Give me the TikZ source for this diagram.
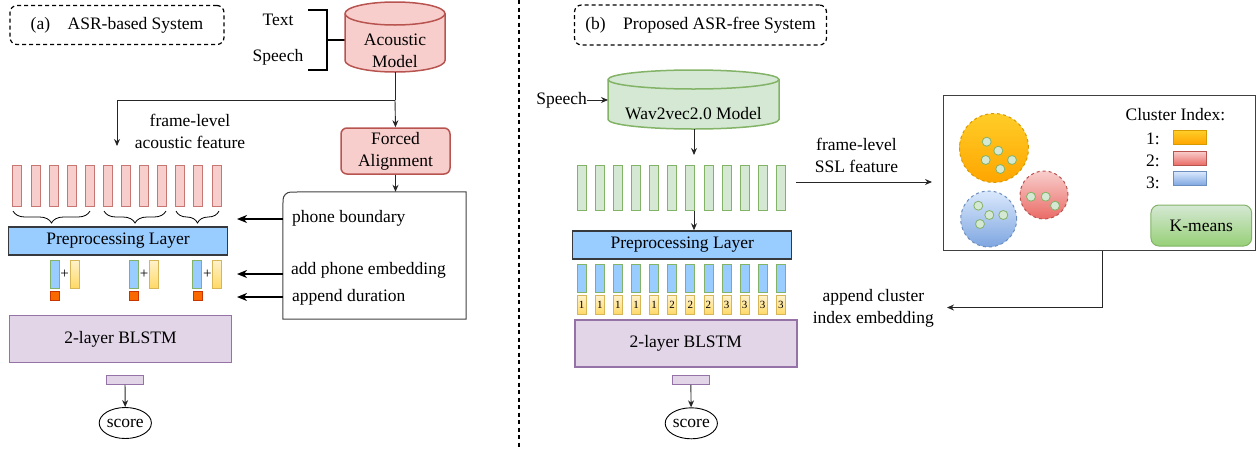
\documentclass[tikz,border=0pt]{standalone}
\usepackage{fontspec}
\setmainfont{Liberation Serif}
\usetikzlibrary{arrows.meta,decorations.pathreplacing,shapes.geometric}

\definecolor{pinkfill}{HTML}{F8CECC}
\definecolor{pinkline}{HTML}{B85450}
\definecolor{greenfill}{HTML}{D5E8D4}
\definecolor{greenline}{HTML}{82B366}
\definecolor{greendark}{HTML}{97D077}
\definecolor{prefill}{HTML}{99CCFF}
\definecolor{preline}{HTML}{36393D}
\definecolor{purpfill}{HTML}{E1D5E7}
\definecolor{purpline}{HTML}{9673A6}
\definecolor{yelfill}{HTML}{FFF2CC}
\definecolor{yeldark}{HTML}{FFD966}
\definecolor{yelline}{HTML}{D6B656}
\definecolor{orfill}{HTML}{FA6800}
\definecolor{orline}{HTML}{C73500}
\definecolor{gold}{HTML}{FFCD28}
\definecolor{golddark}{HTML}{FFA500}
\definecolor{goldline}{HTML}{D79B00}
\definecolor{redlight}{HTML}{F8CECC}
\definecolor{reddark}{HTML}{EA6B66}
\definecolor{bluelight}{HTML}{DAE8FC}
\definecolor{bluedark}{HTML}{7EA6E0}
\definecolor{blueline}{HTML}{6C8EBF}

\newcommand{\mainsize}{\fontsize{17.5}{21}\selectfont}
\newcommand{\drawcyl}[6]{%
  \pgfmathsetmacro\cylrad{(#3-#2)/2}
  \draw[#1] (#2,#4+#6) -- (#2,#5-#6) arc[start angle=180,end angle=0,x radius=\cylrad,y radius=#6]
     -- (#3,#4+#6) arc[start angle=0,end angle=-180,x radius=\cylrad,y radius=#6] -- cycle;
  \draw[#1,fill=none] (#2,#4+#6) arc[start angle=180,end angle=0,x radius=\cylrad,y radius=#6];
}

\tikzset{
  titlebox/.style={draw,line width=1.2pt,dash pattern=on 4pt off 3pt,rounded corners=7pt,inner sep=0pt},
  pinkbar/.style={draw=pinkline!80,fill=pinkfill,line width=0.8pt,minimum width=9pt,minimum height=41pt,inner sep=0pt},
  greenbar/.style={draw=greenline,fill=greenfill,line width=0.8pt,minimum width=9pt,minimum height=45pt,inner sep=0pt},
  bluebar/.style={draw=greenline,fill=prefill,line width=0.8pt,minimum width=9pt,minimum height=28pt,inner sep=0pt},
  yelbar/.style={draw=yelline,top color=yelfill,bottom color=yeldark,line width=0.8pt,minimum width=9pt,inner sep=0pt},
  orsq/.style={draw=orline,fill=orfill,line width=0.6pt,minimum width=9pt,minimum height=9pt,inner sep=0pt},
  prelayer/.style={draw=preline,fill=prefill,line width=1.5pt,minimum width=219pt,minimum height=28pt,inner sep=0pt},
  blstm/.style={draw=purpline,fill=purpfill,line width=1.5pt,minimum width=222pt,minimum height=47pt,inner sep=0pt},
  outbar/.style={draw=purpline,fill=purpfill,line width=0.8pt,minimum width=37pt,minimum height=9pt,inner sep=0pt},
  scorenode/.style={draw,ellipse,line width=0.9pt,minimum width=47pt,minimum height=31pt,inner sep=0pt},
  dot/.style={circle,draw=greenline,fill=greenfill,line width=0.8pt,minimum size=9pt,inner sep=0pt},
  conn/.style={draw=black!85,line width=0.9pt,-{Stealth[length=7pt,width=6pt]}},
  bigconn/.style={draw=black,line width=1.6pt,-{Stealth[length=10pt,width=8pt,inset=3pt]}}
}

\begin{document}
\begin{tikzpicture}[x=1pt,y=-1pt,font=\mainsize]
\useasboundingbox (0,0) rectangle (1257,448);

\node[titlebox,minimum width=214pt,minimum height=39pt] (ta) at (117,25) {(a)\quad ASR-based System};
\node[titlebox,minimum width=252pt,minimum height=40pt] (tb) at (700.5,25) {(b)\quad Proposed ASR-free System};
\draw[line width=1.3pt,dash pattern=on 4pt off 3.5pt] (519,0) -- (519,448);

% (a) ASR-based System
\node (txt) at (278,20) {Text};
\node (spa) at (278,57) {Speech};
\draw[line width=1.3pt] (308,10) -- (327,10) -- (327,70) -- (308,70);
\draw[line width=1.3pt] (327,40) -- (345,40);
\drawcyl{draw=pinkline,fill=pinkfill,line width=1.5pt}{345}{445}{2}{72}{11.5}
\node[align=center,inner sep=0pt] (am) at (395,51) {Acoustic\\[1pt]Model};
\coordinate (amb) at (395,72);
\coordinate (split) at (395,100);
\coordinate (flend) at (117,146);
\node[draw=pinkline,fill=pinkfill,line width=1.5pt,rounded corners=6pt,minimum width=109pt,minimum height=46pt,align=center,inner sep=0pt] (fa) at (395.5,151) {Forced\\[1pt]Alignment};
\draw[draw=black!85,line width=0.9pt] (amb) -- (split);
\draw[conn] (split) -| (flend);
\draw[conn] (split) -- (fa.north);
\node[align=center,inner sep=0pt] (flf) at (190,131) {frame-level\\[1pt]acoustic feature};

\node[minimum width=183pt,minimum height=127pt,inner sep=0pt] (info) at (374.5,255.5) {};
\draw[line width=1pt,black!75] (info.south west) -- (283,200) arc[start angle=180,end angle=270,radius=8] -- (info.north east) -- (info.south east) -- cycle;
\draw[conn] (fa.south) -- (info.north -| fa.south);
\node[anchor=west,inner sep=0pt] (pb) at (292,218) {phone boundary};
\node[anchor=west,inner sep=0pt] (ape) at (291,270) {add phone embedding};
\node[anchor=west,inner sep=0pt] (ad) at (292,297) {append duration};
\coordinate (pbend) at (237,219);
\coordinate (apeend) at (237,274);
\coordinate (adend) at (237,297);
\draw[bigconn] (info.west |- pbend) -- (pbend);
\draw[bigconn] (info.west |- apeend) -- (apeend);
\draw[bigconn] (info.west |- adend) -- (adend);

\foreach \i in {0,...,11}
  \node[pinkbar] (fp\i) at (17.3+18.1*\i,185.5) {};
\foreach \xa/\xb in {13/90,104/166,176/219}
  \draw[line width=0.8pt,decorate,decoration={brace,mirror,amplitude=12pt}] (\xa,211) -- (\xb,211);
\node[prelayer] (prea) at (118,241) {Preprocessing Layer};
\foreach \x [count=\k] in {54.7,134,197.3} {
  \node[bluebar] (pha\k) at (\x,274) {};
  \node[yelbar,minimum height=28pt] (pea\k) at (\x+20,274) {};
  \node[inner sep=0pt,font=\fontsize{15}{15}\selectfont] (plus\k) at (\x+10,274) {+};
  \node[orsq] (dur\k) at (\x,296) {};
}
\node[blstm] (blstma) at (120.5,339) {2-layer BLSTM};
\node[outbar] (outa) at (125,380) {};
\node[scorenode] (sca) at (125.3,423) {score};
\draw[conn] (outa) -- (sca);

% (b) Proposed ASR-free System
\node[inner sep=0pt] (spb) at (561.7,100) {Speech};
\drawcyl{draw=greenline,fill=greenfill,line width=1.5pt}{608}{779}{70}{129}{9.5}
\node[inner sep=0pt] (w2v) at (693.5,114) {Wav2vec2.0 Model};
\coordinate (w2vl) at (608,100);
\coordinate (w2vb) at (694,129);
\draw[conn] (spb) -- (w2vl);
\foreach \i in {0,...,11}
  \node[greenbar] (fs\i) at (581.7+18.1*\i,187.5) {};
\draw[conn] (w2vb) -- (694,155);
\node[prelayer] (preb) at (682.2,245) {Preprocessing Layer};
\draw[conn] (694,211) -- (preb.north -| 694,0);
\foreach \n [count=\k from 0] in {1,1,1,1,1,2,2,2,3,3,3,3} {
  \node[bluebar] (phb\k) at (581.7+18.1*\k,278.3) {};
  \node[yelbar,minimum height=18.7pt,font=\fontsize{11}{11}\selectfont] (cib\k) at (581.7+18.1*\k,305) {\n};
}
\node[blstm] (blstmb) at (685.8,343.3) {2-layer BLSTM};
\node[outbar] (outb) at (690.8,380) {};
\node[scorenode] (scb) at (691.3,423.3) {score};
\draw[conn] (outb) -- (scb);

\node[draw=black!75,line width=1pt,minimum width=311.7pt,minimum height=155.3pt,inner sep=0pt] (km) at (1099.2,173.3) {};
\coordinate (sslstart) at (796,182);
\draw[conn] (sslstart) -- (932,182);
\node[align=center,inner sep=0pt] (sslf) at (856.5,155) {frame-level\\[1pt]SSL feature};
\coordinate (kmturn) at (1102,307.5);
\coordinate (ciend) at (947,307.5);
\draw[conn] (km.south -| kmturn) -- (kmturn) -- (ciend);
\node[align=center,inner sep=0pt] (cie) at (873.3,308) {append cluster\\[1pt]index embedding};

\node[circle,draw=goldline,dashed,line width=1pt,top color=gold,bottom color=golddark,minimum size=69pt,inner sep=0pt] (c1) at (994,148) {};
\node[circle,draw=pinkline,dashed,line width=1pt,top color=redlight,bottom color=reddark,minimum size=48pt,inner sep=0pt] (c2) at (1044,195) {};
\node[circle,draw=blueline,dashed,line width=1pt,top color=bluelight,bottom color=bluedark,minimum size=56pt,inner sep=0pt] (c3) at (988.7,219) {};
\foreach \x/\y in {986.7/141.7,998.3/150.7,985.7/160,1012/160,1000.3/169,1031/196.7,1045.7/196.7,1055/205.7,978.3/205.7,989.3/215,1003.3/215,980/224}
  \node[dot] at (\x,\y) {};
\node[inner sep=0pt] (cih) at (1175.5,115) {Cluster Index:};
\node[anchor=east,inner sep=0pt] (l1) at (1160,139.3) {1:};
\node[anchor=east,inner sep=0pt] (l2) at (1160,161) {2:};
\node[anchor=east,inner sep=0pt] (l3) at (1160,182.7) {3:};
\node[draw=goldline,top color=gold,bottom color=golddark,minimum width=33pt,minimum height=14pt,inner sep=0pt] (k1) at (1189.7,137.5) {};
\node[draw=pinkline,top color=redlight,bottom color=reddark,minimum width=33pt,minimum height=14pt,inner sep=0pt] (k2) at (1189.7,158.2) {};
\node[draw=blueline,top color=bluelight,bottom color=bluedark,minimum width=33pt,minimum height=14pt,inner sep=0pt] (k3) at (1189.7,178.5) {};
\node[draw=greenline,top color=greenfill,bottom color=greendark,line width=1pt,rounded corners=8pt,minimum width=100.7pt,minimum height=41pt,inner sep=0pt] (kmeans) at (1201.3,225.5) {K-means};
\end{tikzpicture}
\end{document}
